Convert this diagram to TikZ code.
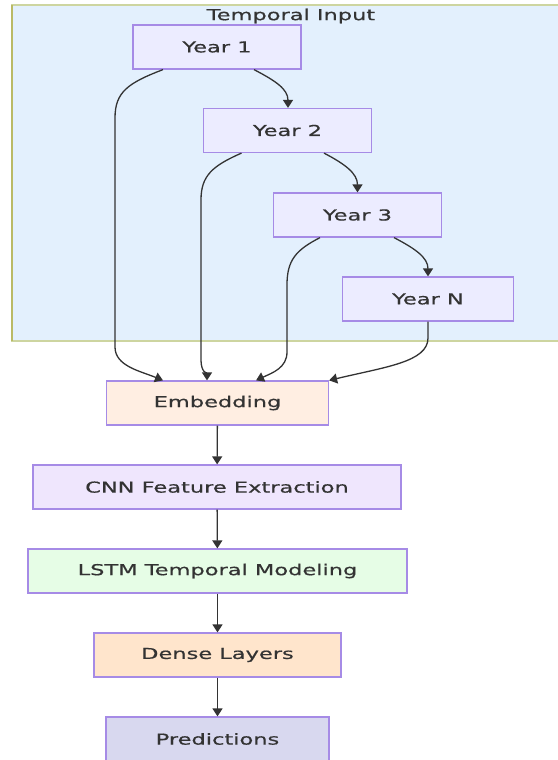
\documentclass[tikz,border=0pt]{standalone}
\usepackage{fontspec}
\setmainfont[FakeStretch=1.5,FakeBold=0.6]{DejaVu Sans}
\usetikzlibrary{arrows.meta,calc}
\definecolor{clusterfill}{HTML}{E3F0FD}
\definecolor{clusterline}{HTML}{CDD5A0}
\definecolor{clusterleft}{HTML}{BABA66}
\definecolor{boxline}{HTML}{A68BE6}
\definecolor{yearfill}{HTML}{ECECFF}
\definecolor{embfill}{HTML}{FFEEE2}
\definecolor{cnnfill}{HTML}{EFE6FD}
\definecolor{lstmfill}{HTML}{E6FDE6}
\definecolor{densefill}{HTML}{FFE5CC}
\definecolor{predfill}{HTML}{D8D8EF}
\definecolor{ink}{HTML}{333333}
\begin{document}
\begin{tikzpicture}[x=1pt,y=-1pt,
  box/.style={draw=boxline,line width=1.2pt,minimum height=44pt,inner sep=0pt,
    text=ink,font=\fontsize{15}{18}\selectfont},
  yearbox/.style={box,fill=yearfill,minimum width=168pt},
  conn/.style={draw=ink,line width=1.3pt,-{Triangle[length=8pt,width=10pt]}},
  lbl/.style={text=ink,font=\fontsize{15}{18}\selectfont,inner sep=0pt}]
\useasboundingbox (0,0) rectangle (557,760);
% cluster
\fill[clusterfill] (12,5) rectangle (565,341);
\draw[clusterline,line width=1.5pt] (565,5) -- (12,5) -- (12,341) -- (565,341);
\draw[clusterleft,line width=2pt] (12,5) -- (12,341);
\node[lbl] (title) at (291,16) {Temporal Input};
% nodes
\node[yearbox] (y1) at (217,47) {Year 1};
\node[yearbox] (y2) at (287.5,130.5) {Year 2};
\node[yearbox] (y3) at (357.5,215) {Year 3};
\node[yearbox,minimum width=171pt] (yn) at (428,299) {Year N};
\node[box,fill=embfill,minimum width=222pt] (emb) at (217.5,403) {Embedding};
\node[box,fill=cnnfill,minimum width=368pt] (cnn) at (217,487) {CNN Feature Extraction};
\node[box,fill=lstmfill,minimum width=379pt] (lstm) at (217.5,571) {LSTM Temporal Modeling};
\node[box,fill=densefill,minimum width=247pt] (dense) at (217.5,655) {Dense Layers};
\node[box,fill=predfill,minimum width=223pt] (pred) at (217.5,739) {Predictions};
% chain inside cluster
\draw[conn] ($(y1.south)+(37,0)$) .. controls ($(y1.south)+(58,11)$) and ($(y2.north)+(0.5,-19)$) .. ($(y2.north)+(0.5,0)$);
\draw[conn] ($(y2.south)+(36.5,0)$) .. controls ($(y2.south)+(57.5,11)$) and ($(y3.north)+(0,-19)$) .. (y3.north);
\draw[conn] ($(y3.south)+(36.5,0)$) .. controls ($(y3.south)+(57.5,11)$) and ($(yn.north)+(0,-19)$) .. (yn.north);
% to embedding
\draw[conn] ($(y1.south)+(-54,0)$) .. controls (128,83) and (115,92) .. (115,118)
  -- (115,347) .. controls (115,366) and (140,371) .. ($(emb.north)+(-54.5,0)$);
\draw[conn] ($(y2.south)+(-46,0)$) .. controls (212,166) and (201,176) .. (201,200)
  -- (201,360) .. controls (201,372) and (207,374) .. ($(emb.north)+(-10.5,0)$);
\draw[conn] ($(y3.south)+(-37.5,0)$) .. controls (296,250) and (287,260) .. (287,285)
  -- (287,352) .. controls (287,368) and (272,373) .. ($(emb.north)+(38.5,0)$);
\draw[conn] (yn.south) -- (428,338) .. controls (428,362) and (385,367) .. (emb.north east);
% main chain
\draw[conn] (emb) -- (cnn);
\draw[conn] (cnn) -- (lstm);
\draw[conn] (lstm) -- (dense);
\draw[conn] (dense) -- (pred);
\end{tikzpicture}
\end{document}
